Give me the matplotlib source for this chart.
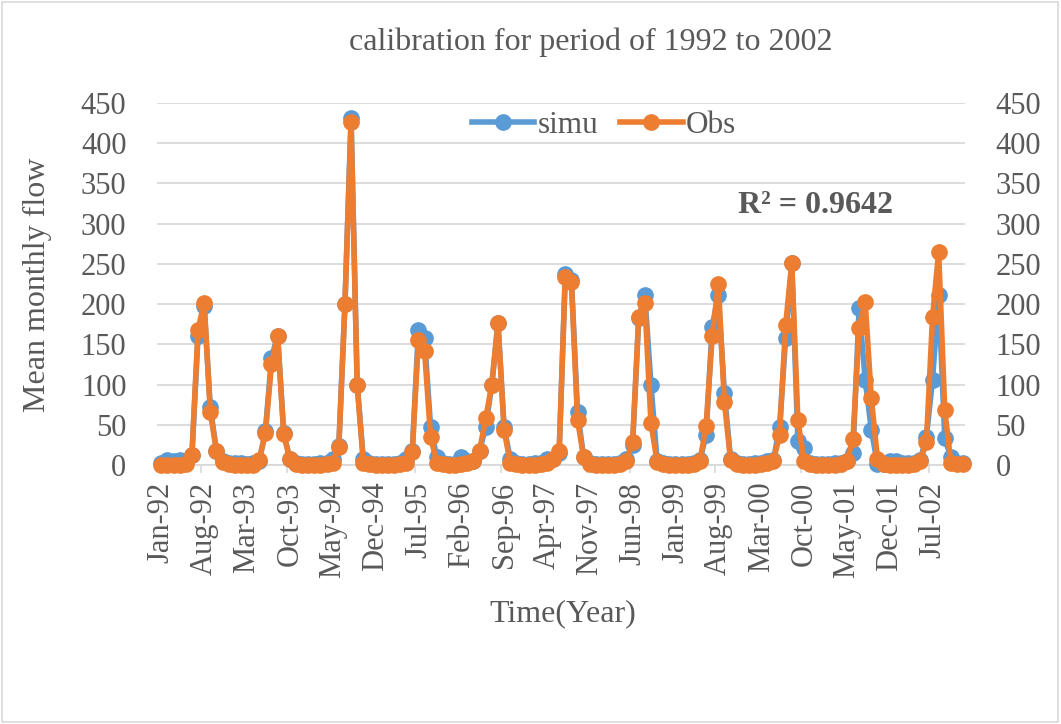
import numpy as np
import pandas as pd
import matplotlib
matplotlib.use("Agg")
from matplotlib import pyplot as plt
from matplotlib.patches import Rectangle

# monthly mean flow, Jan-1992 .. Dec-2002
simu = [3, 6, 5, 6, 5, 12, 160, 198, 72, 18, 5, 2,
        2, 2, 1, 2, 5, 42, 133, 161, 40, 8, 2, 1,
        1, 1, 2, 3, 8, 24, 200, 432, 100, 8, 2, 1,
        1, 1, 1, 2, 8, 17, 168, 158, 47, 10, 2, 1,
        1, 10, 5, 5, 18, 47, 100, 177, 47, 8, 2, 1,
        1, 2, 3, 8, 8, 15, 238, 230, 66, 10, 2, 1,
        1, 1, 1, 2, 8, 25, 183, 211, 100, 5, 2, 1,
        1, 1, 1, 2, 6, 37, 172, 211, 89, 8, 2, 1,
        1, 2, 3, 5, 6, 47, 158, 251, 30, 21, 2, 1,
        1, 1, 2, 3, 5, 15, 195, 106, 44, 1, 1, 5,
        5, 2, 2, 3, 6, 35, 106, 211, 33, 10, 2, 2]
obs = [0, 0, 0, 0, 1, 13, 168, 202, 66, 18, 4, 1,
       0, 0, 0, 0, 6, 40, 125, 161, 38, 7, 1, 0,
       0, 0, 0, 1, 3, 23, 200, 426, 100, 3, 1, 0,
       0, 0, 0, 1, 3, 16, 156, 142, 35, 3, 1, 0,
       0, 1, 2, 5, 18, 58, 100, 177, 44, 3, 1, 0,
       0, 0, 1, 3, 8, 18, 234, 228, 56, 10, 1, 0,
       0, 0, 0, 1, 5, 29, 184, 201, 52, 4, 1, 0,
       0, 0, 0, 1, 5, 48, 160, 225, 78, 6, 1, 0,
       0, 0, 1, 2, 5, 37, 174, 251, 56, 5, 1, 0,
       0, 0, 0, 1, 5, 32, 170, 203, 83, 8, 1, 0,
       0, 0, 0, 1, 5, 29, 184, 265, 68, 3, 1, 1]
months = pd.date_range("1992-01-01", periods=len(obs), freq="MS")
month_labels = [d.strftime("%b-%y") for d in months]
y_ticks = [0, 50, 100, 150, 200, 250, 300, 350, 400, 450]
r2_text = "R\u00b2 = 0.9642"

plt.rcParams['font.family'] = ['Liberation Serif', 'DejaVu Serif']
txt = '#595959'
blue = '#5B9BD5'
orange = '#ED7D31'

fig = plt.figure(figsize=(10.61, 7.24), dpi=100)
fig.patches.append(Rectangle((0.002, 0.003), 0.995, 0.994, transform=fig.transFigure,
                             fill=False, edgecolor='#D9D9D9', lw=1.2))
ax = fig.add_axes([0.148, 0.3577, 0.7615, 0.5])

x = np.arange(len(obs))
ax.plot(x, simu, color=blue, lw=4, marker='o', ms=11, label='simu', zorder=3, clip_on=False)
ax.plot(x, obs, color=orange, lw=4, marker='o', ms=11, label='Obs', zorder=4, clip_on=False)

ax.set_ylim(0, 450)
ax.set_xlim(-0.7, 131.3)
ax.set_yticks(y_ticks)
ax.grid(axis='y', color='#D9D9D9', lw=1.3)
ax.set_axisbelow(True)
for s in ['top', 'left', 'right']:
    ax.spines[s].set_visible(False)
ax.spines['bottom'].set_color('#D9D9D9')
ax.spines['bottom'].set_linewidth(1.3)

ax.set_xticks(x[::7])
ax.set_xticklabels(month_labels[::7], rotation=90)
ax.set_xticks(np.arange(-0.5, len(obs), 7), minor=True)
ax.tick_params(axis='x', which='major', length=0, pad=12, labelsize=22, colors=txt)
ax.tick_params(axis='x', which='minor', length=6, color='#D9D9D9', width=1.2)
ax.tick_params(axis='y', length=0, pad=22, labelsize=22, colors=txt)

ax2 = ax.twinx()
ax2.set_ylim(0, 450)
ax2.set_yticks(y_ticks)
ax2.tick_params(axis='y', length=0, pad=22, labelsize=22, colors=txt)
for s in ax2.spines.values():
    s.set_visible(False)

leg = ax.legend(loc='center', bbox_to_anchor=(0.553, 0.937), ncol=2, frameon=False,
                fontsize=22.5, handlelength=2.0, handletextpad=0.1, columnspacing=0.7)
for t in leg.get_texts():
    t.set_color(txt)

ax.text(0.719, 0.716, r2_text, transform=ax.transAxes, ha='left', va='center',
        fontsize=23, fontweight='bold', color=txt)

fig.text(0.557, 0.942, "calibration for period of 1992 to 2002", ha='center', va='center',
         fontsize=23, color=txt)
fig.text(0.035, 0.606, "Mean monthly flow", rotation=90, ha='center', va='center',
         fontsize=23, color=txt)
fig.text(0.530, 0.153, "Time(Year)", ha='center', va='center', fontsize=23, color=txt)

fig.savefig("out.png", dpi=100)
